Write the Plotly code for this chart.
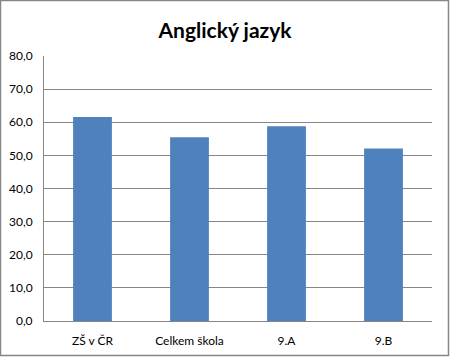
import plotly.graph_objects as go

categories = ["ZŠ v ČR", "Celkem škola", "9.A", "9.B"]
values = [61.6, 55.5, 58.8, 52.1]
y_ticks = [0, 10, 20, 30, 40, 50, 60, 70, 80]
y_tick_labels = ["0,0", "10,0", "20,0", "30,0", "40,0", "50,0", "60,0", "70,0", "80,0"]

fig = go.Figure()
fig.add_trace(go.Bar(x=categories, y=values, marker=dict(color="#4F81BD", line=dict(width=0)),
                     hoverinfo="skip"))

fig.update_layout(
    width=450, height=357,
    margin=dict(l=44, r=18, t=56, b=36, autoexpand=False),
    paper_bgcolor="white", plot_bgcolor="white",
    bargap=0.6,
    showlegend=False,
    font=dict(family="Lato, Open Sans, sans-serif", size=12, color="black"),
    title=dict(text="<b>Anglický jazyk</b>", x=0.5, xanchor="center", y=1 - 31 / 357, yanchor="middle",
               font=dict(size=21, color="black")),
    shapes=[dict(type="rect", xref="paper", yref="paper",
                 x0=-43.5 / 388, x1=1 + 16.5 / 388, y0=-34.5 / 265, y1=1 + 55.5 / 265,
                 line=dict(color="#868686", width=1.5), fillcolor="rgba(0,0,0,0)", layer="below")],
)
fig.update_xaxes(showline=True, linecolor="#868686", linewidth=1, showgrid=False, ticks="",
                 ticklabelstandoff=9, fixedrange=True, automargin=False)
fig.update_yaxes(range=[0, 80], tickvals=y_ticks, ticktext=y_tick_labels, showgrid=True,
                 gridcolor="#868686", gridwidth=1, showline=True, linecolor="#868686", linewidth=1,
                 ticks="", ticklabelstandoff=8, zeroline=False, fixedrange=True, automargin=False)

fig.write_html("out.html", config={"displayModeBar": False},
               post_script="document.body.style.margin='0';document.body.style.overflow='hidden';")
